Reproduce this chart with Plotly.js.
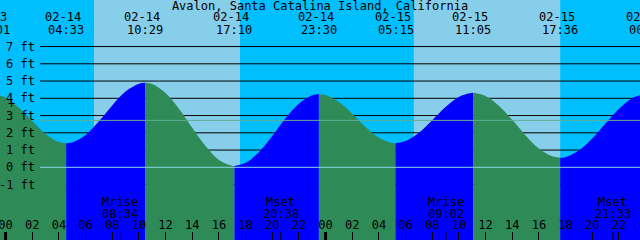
<!DOCTYPE html>
<html><head><meta charset="utf-8">
<script src="https://cdn.plot.ly/plotly-3.0.1.min.js"></script>
<style>html,body{margin:0;padding:0;background:#00BFFF}#chart{width:640px;height:240px}</style>
</head><body><div id="chart"></div>
<script>
// ---- data ----
const chartTitle = 'Avalon, Santa Catalina Island, California';

const tideTimes = [
  '2024-02-13 23:01',
  '2024-02-14 00:00','2024-02-14 01:00','2024-02-14 02:00','2024-02-14 03:00','2024-02-14 04:00','2024-02-14 04:33',
  '2024-02-14 05:00','2024-02-14 06:00','2024-02-14 07:00','2024-02-14 08:00','2024-02-14 09:00','2024-02-14 10:00','2024-02-14 10:29',
  '2024-02-14 11:00','2024-02-14 12:00','2024-02-14 13:00','2024-02-14 14:00','2024-02-14 15:00','2024-02-14 16:00','2024-02-14 17:00','2024-02-14 17:10',
  '2024-02-14 18:00','2024-02-14 19:00','2024-02-14 20:00','2024-02-14 21:00','2024-02-14 22:00','2024-02-14 23:00','2024-02-14 23:30',
  '2024-02-15 00:00','2024-02-15 01:00','2024-02-15 02:00','2024-02-15 03:00','2024-02-15 04:00','2024-02-15 05:00','2024-02-15 05:15',
  '2024-02-15 06:00','2024-02-15 07:00','2024-02-15 08:00','2024-02-15 09:00','2024-02-15 10:00','2024-02-15 11:00','2024-02-15 11:05',
  '2024-02-15 12:00','2024-02-15 13:00','2024-02-15 14:00','2024-02-15 15:00','2024-02-15 16:00','2024-02-15 17:00','2024-02-15 17:36',
  '2024-02-15 18:00','2024-02-15 19:00','2024-02-15 20:00','2024-02-15 21:00','2024-02-15 22:00','2024-02-15 23:00','2024-02-16 00:00','2024-02-16 00:06'
];
const tideHeights = [
  4.27,
  4.05, 3.45, 2.68, 1.93, 1.46, 1.39,
  1.44, 1.88, 2.67, 3.59, 4.39, 4.84, 4.90,
  4.83, 4.31, 3.40, 2.29, 1.23, 0.43, 0.09, 0.08,
  0.26, 0.88, 1.82, 2.84, 3.69, 4.18, 4.24,
  4.19, 3.79, 3.11, 2.34, 1.72, 1.41, 1.40,
  1.52, 2.00, 2.73, 3.49, 4.08, 4.32, 4.32,
  4.14, 3.57, 2.75, 1.85, 1.09, 0.64, 0.56,
  0.59, 0.97, 1.67, 2.54, 3.38, 4.00, 4.25, 4.25
];

// high / low tide events
const eventTimes  = ['2024-02-13 23:01','2024-02-14 04:33','2024-02-14 10:29','2024-02-14 17:10','2024-02-14 23:30',
                     '2024-02-15 05:15','2024-02-15 11:05','2024-02-15 17:36','2024-02-16 00:06'];
const eventDates  = ['02-13','02-14','02-14','02-14','02-14','02-15','02-15','02-15','02-16'];
const eventClocks = ['23:01','04:33','10:29','17:10','23:30','05:15','11:05','17:36','00:06'];

// moon events
const moonTimes  = ['2024-02-14 08:34','2024-02-14 20:38','2024-02-15 09:02','2024-02-15 21:33'];
const moonNames  = ['Mrise','Mset','Mrise','Mset'];
const moonClocks = ['08:34','20:38','09:02','21:33'];

// daylight
const sunriseTimes = ['2024-02-14 06:38','2024-02-15 06:37'];
const sunsetTimes  = ['2024-02-14 17:35','2024-02-15 17:36'];
const midnightTimes = ['2024-02-14 00:00','2024-02-15 00:00'];

// hour label just past the right edge (partly visible)
const edgeHourTimes  = ['2024-02-16 00:00'];
const edgeHourLabels = ['00'];

const levelTicks  = [-1, 0, 1, 2, 3, 4, 5, 6, 7];
const levelLabels = ['-1 ft','0 ft','1 ft','2 ft','3 ft','4 ft','5 ft','6 ft','7 ft'];
const meanLevel = 2.72;
const markLevel = 3.65;

// ---- styling ----
const FONT = 'DejaVu Sans Mono, Liberation Mono, monospace';
const FS = 12;
const W = 640, H = 240;
const X_RANGE = ['2024-02-13 23:35', '2024-02-15 23:35'];
const Y_RANGE = [-4.214, 9.699];
const NIGHT = '#00BFFF', DAY = '#87CEEB', FALLING = '#2E8B57', RISING = '#0000FF';
const LINE_X0 = 40 / W;

function ms(s){ return Date.parse(s.replace(' ', 'T') + ':00Z'); }
function frac(s){ return (ms(s) - ms(X_RANGE[0])) / (ms(X_RANGE[1]) - ms(X_RANGE[0])); }
function py(p){ return 1 - p / H; }

// ---- traces: one filled segment between consecutive extremes ----
const traces = [];
const idx = eventTimes.map(t => tideTimes.indexOf(t));
for (let k = 0; k < idx.length - 1; k++) {
  const xs = tideTimes.slice(idx[k], idx[k + 1] + 1);
  const ys = tideHeights.slice(idx[k], idx[k + 1] + 1);
  const rising = ys[ys.length - 1] > ys[0];
  traces.push({x: xs, y: xs.map(() => Y_RANGE[0]), type: 'scatter', mode: 'lines',
               line: {width: 0}, hoverinfo: 'skip', showlegend: false});
  traces.push({x: xs, y: ys, type: 'scatter', mode: 'lines',
               line: {width: 0, shape: 'spline', smoothing: 1},
               fill: 'tonexty', fillcolor: rising ? RISING : FALLING,
               hoverinfo: 'skip', showlegend: false});
}

// ---- shapes ----
const shapes = [];
sunriseTimes.forEach((t, i) => shapes.push({type: 'rect', layer: 'below', xref: 'x', yref: 'paper',
  x0: t, x1: sunsetTimes[i], y0: 0, y1: 1, fillcolor: DAY, line: {width: 0}}));
levelTicks.forEach(v => shapes.push({type: 'line', layer: 'below', xref: 'paper', yref: 'y',
  x0: LINE_X0, x1: 1, y0: v, y1: v, line: {color: '#000000', width: 1}}));
shapes.push({type: 'line', layer: 'above', xref: 'paper', yref: 'y', x0: LINE_X0, x1: 1,
  y0: 0, y1: 0, line: {color: '#8CD6E8', width: 1}});
shapes.push({type: 'line', layer: 'above', xref: 'paper', yref: 'y', x0: LINE_X0, x1: 1,
  y0: meanLevel, y1: meanLevel, line: {color: '#5FAE91', width: 1}});
midnightTimes.forEach(t => shapes.push({type: 'line', layer: 'above', xref: 'x', yref: 'paper',
  x0: t, x1: t, y0: 0, y1: 8 / H, line: {color: '#000000', width: 3}}));
moonTimes.forEach(t => shapes.push({type: 'line', layer: 'above', xref: 'x', yref: 'paper',
  x0: t, x1: t, y0: 0, y1: 8 / H, line: {color: '#000000', width: 1}}));

// ---- annotations ----
const ann = [];
const f = {family: FONT, size: FS, color: '#000000'};
eventTimes.forEach((t, i) => {
  ann.push({xref: 'paper', yref: 'paper', x: frac(t), y: py(17.5), xanchor: 'center', yanchor: 'middle',
            xshift: -3, text: eventDates[i], showarrow: false, font: f});
  ann.push({xref: 'paper', yref: 'paper', x: frac(t), y: py(29.5), xanchor: 'center', yanchor: 'middle',
            text: eventClocks[i], showarrow: false, font: f});
});
moonTimes.forEach((t, i) => {
  ann.push({xref: 'x', yref: 'paper', x: t, y: py(201.7), xanchor: 'center', yanchor: 'middle',
            text: moonNames[i], showarrow: false, font: f});
  ann.push({xref: 'x', yref: 'paper', x: t, y: py(213.5), xanchor: 'center', yanchor: 'middle',
            text: moonClocks[i], showarrow: false, font: f});
});
edgeHourTimes.forEach((t, i) => ann.push({xref: 'paper', yref: 'paper', x: frac(t), y: py(225.5),
  xanchor: 'center', yanchor: 'middle', text: edgeHourLabels[i], showarrow: false, font: f}));
levelTicks.forEach((v, i) => ann.push({xref: 'paper', yref: 'y', x: 37 / W, y: v, xanchor: 'right',
  yanchor: 'middle', text: levelLabels[i], showarrow: false, font: f}));
ann.push({xref: 'paper', yref: 'y', x: 11 / W, y: markLevel, xanchor: 'center', yanchor: 'middle',
  text: '+', showarrow: false, font: f});

const layout = {
  width: W, height: H,
  margin: {l: 0, r: 0, t: 0, b: 0, pad: 0},
  paper_bgcolor: NIGHT, plot_bgcolor: NIGHT,
  showlegend: false,
  title: {text: chartTitle, font: f, x: 0.5, xanchor: 'center', xref: 'paper',
          y: py(6), yanchor: 'middle', yref: 'container'},
  xaxis: {type: 'date', range: X_RANGE, fixedrange: true,
          tick0: '2024-02-14 00:00', dtick: 2 * 3600 * 1000, tickformat: '%H',
          ticks: 'inside', ticklen: 8, tickwidth: 1, tickcolor: '#000000',
          ticklabelposition: 'inside', ticklabeloverflow: 'allow',
          tickfont: f, showgrid: false, zeroline: false, showline: false, layer: 'above traces'},
  yaxis: {range: Y_RANGE, fixedrange: true, showticklabels: false, ticks: '',
          showgrid: false, zeroline: false, showline: false},
  shapes: shapes,
  annotations: ann
};

Plotly.newPlot('chart', traces, layout, {staticPlot: true, displayModeBar: false});
</script>
</body></html>
